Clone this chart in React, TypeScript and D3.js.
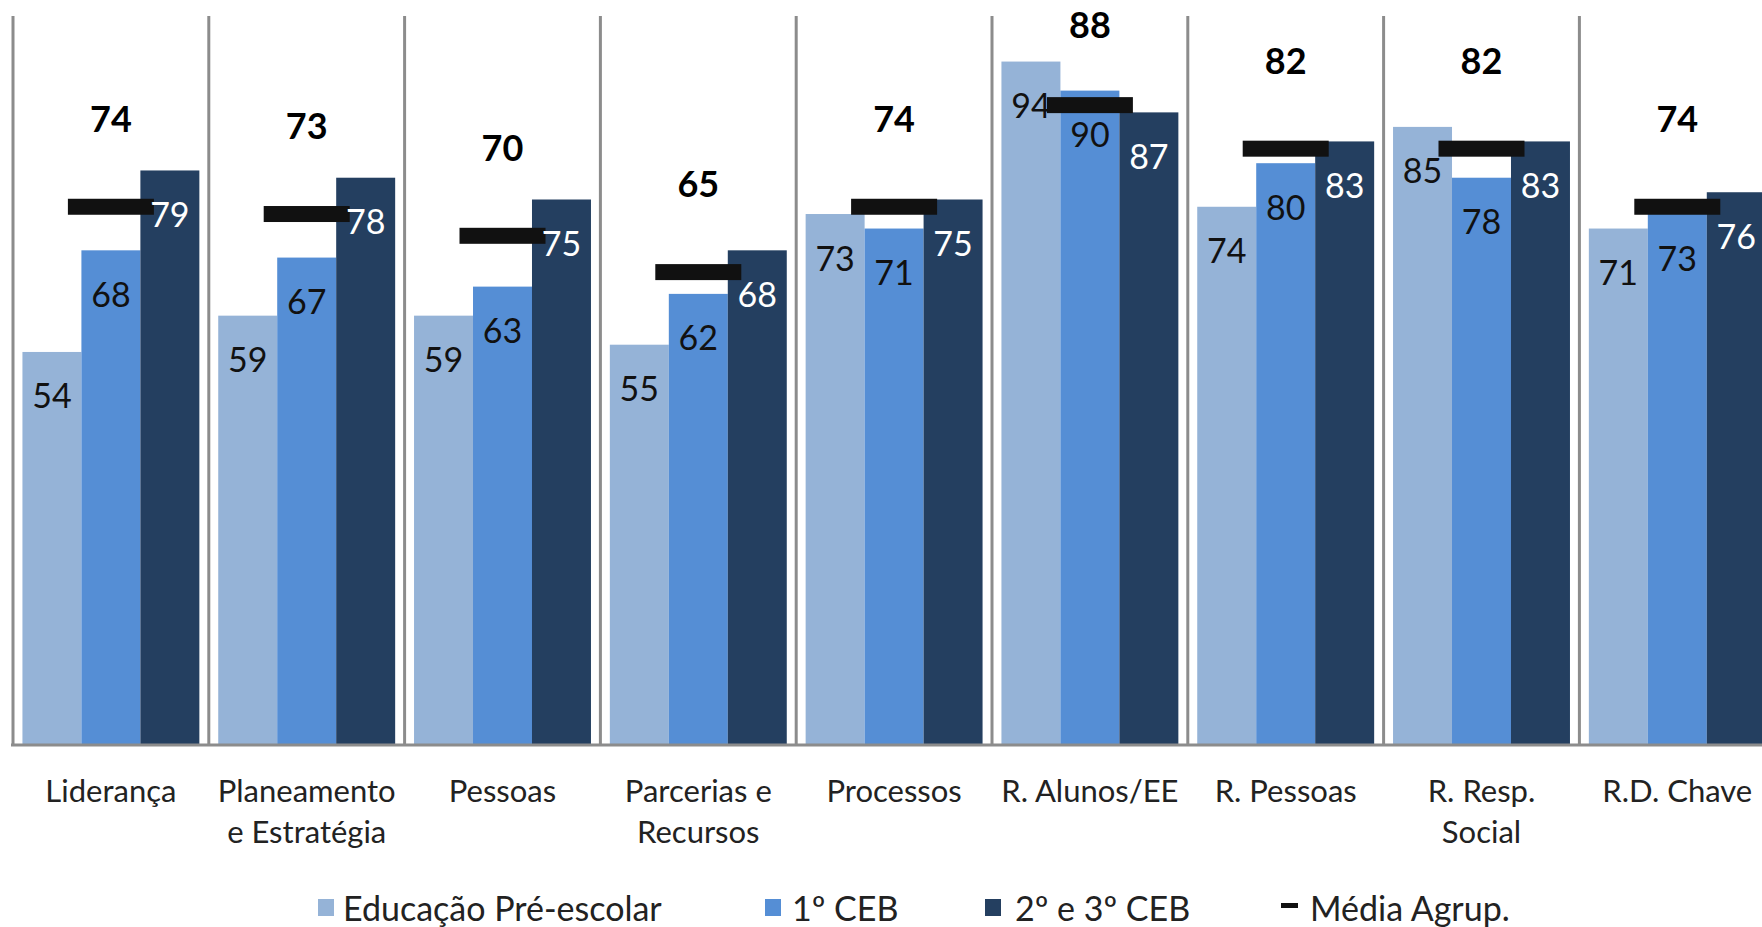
import React from "react";
import * as d3 from "d3";

const categories = [
  ["Liderança"],
  ["Planeamento", "e Estratégia"],
  ["Pessoas"],
  ["Parcerias e", "Recursos"],
  ["Processos"],
  ["R. Alunos/EE"],
  ["R. Pessoas"],
  ["R. Resp.", "Social"],
  ["R.D. Chave"],
];
const seriesNames = ["Educação Pré-escolar", "1º CEB", "2º e 3º CEB"];
const preEscolar = [54, 59, 59, 55, 73, 94, 74, 85, 71];
const ceb1 = [68, 67, 63, 62, 71, 90, 80, 78, 73];
const ceb23 = [79, 78, 75, 68, 75, 87, 83, 83, 76];
const mediaAgrup = [74, 73, 70, 65, 74, 88, 82, 82, 74];
const mediaName = "Média Agrup.";

const colors = ["#95B3D7", "#558ED5", "#243F60"];
const labelColors = ["#111", "#111", "#fff"];

const W = 1762;
const H = 927;
const FONT = "Lato, 'Noto Sans', sans-serif";

export default function App() {
  const keys = categories.map((c) => c.join(" "));
  const step = 195.8;
  const x0 = 13;
  const x = d3.scaleBand<string>().domain(keys).range([x0, x0 + step * keys.length]).paddingInner(0).paddingOuter(0);
  const xi = d3.scaleBand<string>().domain(seriesNames).range([0, x.bandwidth()]).paddingInner(0).paddingOuter(0.16);
  const y = d3.scaleLinear().domain([0, 100]).range([744, 18]);
  const seriesValues = [preEscolar, ceb1, ceb23];

  const legendItems = [
    { sx: 318, tx: 343, name: seriesNames[0], color: colors[0] },
    { sx: 765, tx: 792, name: seriesNames[1], color: colors[1] },
    { sx: 985, tx: 1015, name: seriesNames[2], color: colors[2] },
  ];

  return (
    <svg width={W} height={H} style={{ position: "absolute", left: 0, top: 0, background: "#fff" }} fontFamily={FONT}>
      <rect x={0} y={0} width={W} height={H} fill="#fff" />
      {keys.map((k) => (
        <line key={"g" + k} x1={x(k)!} x2={x(k)!} y1={y(100) - 2} y2={y(0)} stroke="#8C8C8C" strokeWidth={3} />
      ))}
      {seriesValues.map((vals, si) =>
        vals.map((v, ci) => (
          <rect
            key={`b${si}-${ci}`}
            x={x(keys[ci])! + xi(seriesNames[si])!}
            y={y(v)}
            width={xi.bandwidth()}
            height={y(0) - y(v)}
            fill={colors[si]}
          />
        ))
      )}
      <line x1={11} x2={W} y1={y(0) + 1} y2={y(0) + 1} stroke="#8C8C8C" strokeWidth={3} />
      {mediaAgrup.map((v, ci) => {
        const cx = x(keys[ci])! + x.bandwidth() / 2;
        return <rect key={"m" + ci} x={cx - 43} y={y(v) - 8} width={86} height={16} fill="#111" />;
      })}
      {seriesValues.map((vals, si) =>
        vals.map((v, ci) => (
          <text
            key={`l${si}-${ci}`}
            x={x(keys[ci])! + xi(seriesNames[si])! + xi.bandwidth() / 2}
            y={y(v) + 43}
            textAnchor="middle"
            dominantBaseline="central"
            fontSize={34}
            fill={labelColors[si]}
          >
            {v}
          </text>
        ))
      )}
      {mediaAgrup.map((v, ci) => (
        <text
          key={"ml" + ci}
          x={x(keys[ci])! + x.bandwidth() / 2}
          y={Math.max(y(v) - 89, 24)}
          textAnchor="middle"
          dominantBaseline="central"
          fontSize={36}
          fontWeight="bold"
          fill="#000"
        >
          {v}
        </text>
      ))}
      {categories.map((lines, ci) => (
        <text key={"c" + ci} x={x(keys[ci])! + x.bandwidth() / 2} textAnchor="middle" fontSize={31} fill="#222">
          {lines.map((ln, li) => (
            <tspan key={li} x={x(keys[ci])! + x.bandwidth() / 2} y={790 + li * 41} dominantBaseline="central">
              {ln}
            </tspan>
          ))}
        </text>
      ))}
      {legendItems.map((it) => (
        <g key={it.name}>
          <rect x={it.sx} y={899} width={16} height={17} fill={it.color} />
          <text x={it.tx} y={907} dominantBaseline="central" fontSize={34} fill="#222">
            {it.name}
          </text>
        </g>
      ))}
      <rect x={1281} y={903} width={17} height={5} fill="#111" />
      <text x={1310} y={907} dominantBaseline="central" fontSize={34} fill="#222">
        {mediaName}
      </text>
    </svg>
  );
}
